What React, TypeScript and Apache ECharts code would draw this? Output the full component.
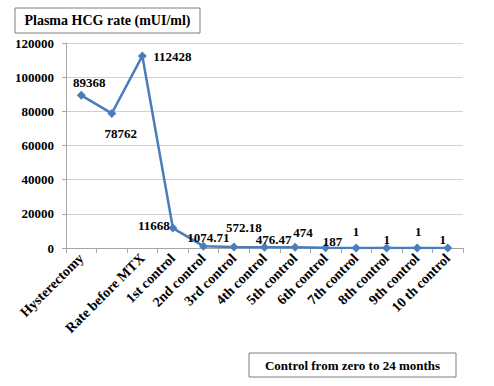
import React, { useEffect, useRef } from "react";
import * as echarts from "echarts";

const categories = [
  "Hysterectomy",
  "",
  "Rate before MTX",
  "1st control",
  "2nd control",
  "3rd control",
  "4th control",
  "5th control",
  "6th control",
  "7th control",
  "8th control",
  "9th control",
  "10 th control",
];
const values = [89368, 78762, 112428, 11668, 1074.71, 572.18, 476.47, 474, 187, 1, 1, 1, 1];
const labelTexts = ["89368", "78762", "112428", "11668", "1074.71", "572.18", "476.47", "474", "187", "1", "1", "1", "1"];
const labelOffsets: [number, number][] = [
  [8, -13], [9, 20], [30, 1], [-19, -3], [5, -9], [10, -20], [9, -8], [8, -15], [7, -6], [0, -16], [0, -8], [1, -16], [-5, -8],
];
const yTicks = { min: 0, max: 120000, interval: 20000 };
const titleText = "Plasma HCG rate (mUI/ml)";
const xTitleText = "Control from zero to 24 months";

const FONT = "Liberation Serif";

export default function App() {
  const ref = useRef<HTMLDivElement>(null);
  useEffect(() => {
    if (!ref.current) return;
    const chart = echarts.init(ref.current, undefined, { renderer: "svg" });
    chart.setOption({
      animation: false,
      backgroundColor: "#ffffff",
      textStyle: { fontFamily: FONT },
      grid: { left: 66, right: 31, top: 43, bottom: 138, containLabel: false },
      xAxis: {
        type: "category",
        data: categories,
        boundaryGap: true,
        axisLine: { lineStyle: { color: "#a6a6a6", width: 1 } },
        axisTick: { show: true, interval: 0, length: 5, lineStyle: { color: "#a6a6a6" } },
        axisLabel: {
          interval: 0,
          rotate: 45,
          margin: 8,
          color: "#000",
          fontFamily: FONT,
          fontWeight: "bold",
          fontSize: 14,
        },
      },
      yAxis: {
        type: "value",
        min: yTicks.min,
        max: yTicks.max,
        interval: yTicks.interval,
        axisLine: { show: true, lineStyle: { color: "#a6a6a6" } },
        axisTick: { show: true, length: 4, lineStyle: { color: "#a6a6a6" } },
        splitLine: { lineStyle: { color: "#d0d0d0", width: 1.2 } },
        axisLabel: {
          margin: 12,
          color: "#000",
          fontFamily: FONT,
          fontWeight: "bold",
          fontSize: 13,
          formatter: (v: number) => String(v),
        },
      },
      series: [
        {
          type: "line",
          data: values.map((v, i) => ({
            value: v,
            label: {
              show: true,
              position: "inside",
              offset: labelOffsets[i],
              formatter: () => labelTexts[i],
            },
          })),
          symbol: "diamond",
          symbolSize: 9,
          lineStyle: { color: "#4a7ebb", width: 2.5 },
          itemStyle: { color: "#4a7ebb" },
          label: {
            show: true,
            color: "#000",
            fontFamily: FONT,
            fontWeight: "bold",
            fontSize: 13,
          },
        },
      ],
      graphic: [
        {
          type: "group",
          children: [
            {
              type: "rect",
              shape: { x: 15, y: 8, width: 185, height: 25 },
              style: { fill: "#fff", stroke: "#7f7f7f", lineWidth: 1 },
            },
            {
              type: "text",
              x: 107.5,
              y: 20.5,
              style: {
                text: titleText,
                fill: "#000",
                fontFamily: FONT,
                fontWeight: "bold",
                fontSize: 14,
                align: "center",
                verticalAlign: "middle",
              },
            },
            {
              type: "rect",
              shape: { x: 249, y: 353, width: 207, height: 24 },
              style: { fill: "#fff", stroke: "#7f7f7f", lineWidth: 1 },
            },
            {
              type: "text",
              x: 352.5,
              y: 365,
              style: {
                text: xTitleText,
                fill: "#000",
                fontFamily: FONT,
                fontWeight: "bold",
                fontSize: 13,
                align: "center",
                verticalAlign: "middle",
              },
            },
          ],
        },
      ],
    });
    return () => chart.dispose();
  }, []);
  return (
    <div
      ref={ref}
      style={{ position: "fixed", left: 0, top: 0, width: 494, height: 386, background: "#fff" }}
    />
  );
}
